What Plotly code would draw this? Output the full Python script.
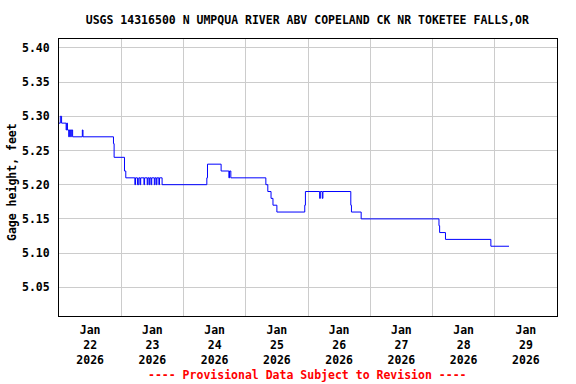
import plotly.graph_objects as go
import pandas as pd

# Change points of the 15-minute gage record (step series)
times = [
    "2026-01-22 00:00", "2026-01-22 00:30", "2026-01-22 01:00", "2026-01-22 02:45",
    "2026-01-22 03:00", "2026-01-22 03:15", "2026-01-22 03:45", "2026-01-22 04:00",
    "2026-01-22 04:30", "2026-01-22 04:45", "2026-01-22 05:15", "2026-01-22 09:00",
    "2026-01-22 09:15", "2026-01-22 21:00", "2026-01-22 21:15", "2026-01-23 01:15",
    "2026-01-23 01:45",
    "2026-01-23 05:15", "2026-01-23 05:30", "2026-01-23 06:15", "2026-01-23 06:45",
    "2026-01-23 07:15", "2026-01-23 07:30", "2026-01-23 08:45", "2026-01-23 09:00",
    "2026-01-23 10:00", "2026-01-23 10:15", "2026-01-23 10:45", "2026-01-23 11:00",
    "2026-01-23 11:30", "2026-01-23 11:45", "2026-01-23 12:45", "2026-01-23 13:00",
    "2026-01-23 13:30", "2026-01-23 13:45", "2026-01-23 14:30", "2026-01-23 14:45",
    "2026-01-23 15:45",
    "2026-01-24 09:00", "2026-01-24 09:15", "2026-01-24 14:30", "2026-01-24 17:30",
    "2026-01-24 17:45", "2026-01-24 18:15",
    "2026-01-25 07:45", "2026-01-25 08:30", "2026-01-25 09:45", "2026-01-25 10:30",
    "2026-01-25 12:00",
    "2026-01-25 22:45", "2026-01-25 23:00", "2026-01-26 04:30", "2026-01-26 04:45",
    "2026-01-26 05:30", "2026-01-26 05:45", "2026-01-26 16:30", "2026-01-26 16:45",
    "2026-01-26 20:30",
    "2026-01-28 02:30", "2026-01-28 02:45", "2026-01-28 05:00", "2026-01-28 22:30",
    "2026-01-29 05:30",
]
gage_ft = [
    5.29, 5.30, 5.29, 5.28,
    5.29, 5.28, 5.27, 5.28,
    5.27, 5.28, 5.27, 5.28,
    5.27, 5.26, 5.24, 5.22,
    5.21,
    5.20, 5.21, 5.20, 5.21,
    5.20, 5.21, 5.20, 5.21,
    5.20, 5.21, 5.20, 5.21,
    5.20, 5.21, 5.20, 5.21,
    5.20, 5.21, 5.20, 5.21,
    5.20,
    5.21, 5.23, 5.22, 5.21,
    5.22, 5.21,
    5.20, 5.19, 5.18, 5.17,
    5.16,
    5.17, 5.19, 5.18, 5.19,
    5.18, 5.19, 5.17, 5.16,
    5.15,
    5.14, 5.13, 5.12, 5.11,
    5.11,
]

day_grid = ["2026-01-23", "2026-01-24", "2026-01-25", "2026-01-26",
            "2026-01-27", "2026-01-28", "2026-01-29"]
label_pos = ["2026-01-22 12:00", "2026-01-23 12:00", "2026-01-24 12:00",
             "2026-01-25 12:00", "2026-01-26 12:00", "2026-01-27 12:00",
             "2026-01-28 12:00", "2026-01-29 12:00"]
label_text = ["Jan<br>22<br>2026", "Jan<br>23<br>2026", "Jan<br>24<br>2026",
              "Jan<br>25<br>2026", "Jan<br>26<br>2026", "Jan<br>27<br>2026",
              "Jan<br>28<br>2026", "Jan<br>29<br>2026"]
y_ticks = [5.05, 5.10, 5.15, 5.20, 5.25, 5.30, 5.35, 5.40]

FONT = "DejaVu Sans Mono"
FS = 11.5

fig = go.Figure()
fig.add_trace(go.Scatter(
    x=pd.to_datetime(times), y=gage_ft, mode="lines",
    line=dict(color="#0000ff", width=1, shape="hv"),
    hoverinfo="x+y", showlegend=False,
))

fig.update_layout(
    width=576, height=384,
    margin=dict(l=59, r=19, t=39, b=68),
    paper_bgcolor="white", plot_bgcolor="white",
    font=dict(family=FONT, size=FS, color="black"),
    title=dict(
        text="<b>USGS 14316500 N UMPQUA RIVER ABV COPELAND CK NR TOKETEE FALLS,OR</b>",
        x=0.5335, xanchor="center", y=1 - 20 / 384, yanchor="middle",
        font=dict(family=FONT, size=FS, color="black"),
    ),
    xaxis=dict(
        type="date",
        range=["2026-01-22 00:00", "2026-01-30 00:00"],
        tickmode="array", tickvals=label_pos,
        ticktext=["<b>" + t.replace("<br>", "</b><br><b>") + "</b>" for t in label_text],
        showgrid=False, ticks="", ticklabelstandoff=3,
        showline=True, linecolor="black", linewidth=1, mirror=True,
        minor=dict(tickmode="array", tickvals=day_grid, showgrid=True,
                   gridcolor="#cccccc", gridwidth=1, ticks=""),
        zeroline=False, fixedrange=True,
    ),
    yaxis=dict(
        range=[5.008, 5.413],
        tickmode="array", tickvals=y_ticks,
        ticktext=["<b>%.2f</b>" % v for v in y_ticks],
        showgrid=True, gridcolor="#cccccc", gridwidth=1, ticks="",
        ticklabelstandoff=6,
        showline=True, linecolor="black", linewidth=1, mirror=True,
        zeroline=False, fixedrange=True,
    ),
    annotations=[
        dict(text="<b>Gage height, feet</b>", textangle=-90,
             xref="paper", yref="paper", x=(12 - 59) / 498, y=(316 - 182) / 277,
             xanchor="center", yanchor="middle", showarrow=False,
             font=dict(family=FONT, size=FS, color="black")),
        dict(text="<b>---- Provisional Data Subject to Revision ----</b>",
             xref="paper", yref="paper", x=(307 - 59) / 498, y=(316 - 375) / 277,
             xanchor="center", yanchor="middle", showarrow=False,
             font=dict(family=FONT, size=FS, color="#ff0000")),
    ],
)

fig.write_html("out.html",
               config={"displayModeBar": False},
               post_script="document.body.style.margin='0px';document.body.style.padding='0px';")
